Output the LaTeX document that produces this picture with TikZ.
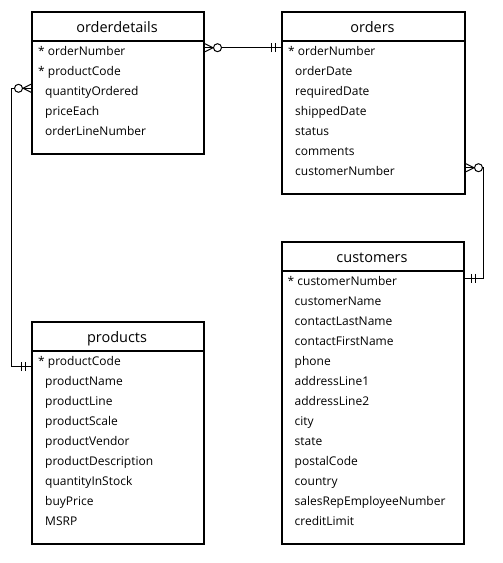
\documentclass[tikz,border=0pt]{standalone}
\usepackage{fontspec}
\setmainfont{Open Sans}
\usetikzlibrary{calc}
\begin{document}
\begin{tikzpicture}[x=1pt,y=-1pt,
  tbl/.style={draw, line width=2pt, inner sep=0pt, anchor=north west, minimum width=#1},
  ttl/.style={anchor=base, inner sep=0pt, font=\fontsize{14.5}{16}\selectfont},
  fld/.style={anchor=base west, inner sep=0pt, font=\fontsize{12}{14}\selectfont},
  sep/.style={line width=2pt},
  conn/.style={line width=1pt},
  manyopt/.pic={\draw[conn] (0,-4) -- (8,0) -- (0,4); \draw[conn, fill=white] (12.5,0) circle[radius=4pt];},
  oneone/.pic={\draw[conn] (6,-4.5) -- (6,4.5); \draw[conn] (10,-4.5) -- (10,4.5);}
]
\useasboundingbox (0,0) rectangle (503,563);
% orderdetails
\node[tbl=172pt, minimum height=142pt] (od) at (31,11) {};
\draw[sep] ($(od.north west)+(0,30)$) -- ($(od.north east)+(0,30)$);
\node[ttl] (odT) at (117,32) {orderdetails};
\node[fld] (od1) at (38,55) {* orderNumber};
\node[fld] (od2) at (38,75) {* productCode};
\node[fld] (od3) at (45,95) {quantityOrdered};
\node[fld] (od4) at (45,115) {priceEach};
\node[fld] (od5) at (45,135) {orderLineNumber};
% orders
\node[tbl=183pt, minimum height=182pt] (or) at (281,11) {};
\draw[sep] ($(or.north west)+(0,30)$) -- ($(or.north east)+(0,30)$);
\node[ttl] (orT) at (372.5,32) {orders};
\node[fld] (or1) at (288,55) {* orderNumber};
\node[fld] (or2) at (295,75) {orderDate};
\node[fld] (or3) at (295,95) {requiredDate};
\node[fld] (or4) at (295,115) {shippedDate};
\node[fld] (or5) at (295,135) {status};
\node[fld] (or6) at (295,155) {comments};
\node[fld] (or7) at (295,175) {customerNumber};
% customers
\node[tbl=182pt, minimum height=302pt] (cu) at (281,241) {};
\draw[sep] ($(cu.north west)+(0,30)$) -- ($(cu.north east)+(0,30)$);
\node[ttl] (cuT) at (372,262) {customers};
\node[fld] (cu1) at (287.5,285) {* customerNumber};
\node[fld] (cu2) at (294.5,305) {customerName};
\node[fld] (cu3) at (294.5,325) {contactLastName};
\node[fld] (cu4) at (294.5,345) {contactFirstName};
\node[fld] (cu5) at (294.5,365) {phone};
\node[fld] (cu6) at (294.5,385) {addressLine1};
\node[fld] (cu7) at (294.5,405) {addressLine2};
\node[fld] (cu8) at (294.5,425) {city};
\node[fld] (cu9) at (294.5,445) {state};
\node[fld] (cu10) at (294.5,465) {postalCode};
\node[fld] (cu11) at (294.5,485) {country};
\node[fld] (cu12) at (294.5,505) {salesRepEmployeeNumber};
\node[fld] (cu13) at (294.5,525) {creditLimit};
% products
\node[tbl=172pt, minimum height=222pt] (pr) at (31,321) {};
\draw[sep] ($(pr.north west)+(0,30)$) -- ($(pr.north east)+(0,30)$);
\node[ttl] (prT) at (117,342) {products};
\node[fld] (pr1) at (38,365) {* productCode};
\node[fld] (pr2) at (45,385) {productName};
\node[fld] (pr3) at (45,405) {productLine};
\node[fld] (pr4) at (45,425) {productScale};
\node[fld] (pr5) at (45,445) {productVendor};
\node[fld] (pr6) at (45,465) {productDescription};
\node[fld] (pr7) at (45,485) {quantityInStock};
\node[fld] (pr8) at (45,505) {buyPrice};
\node[fld] (pr9) at (45,525) {MSRP};
% connector endpoints
\coordinate (a1) at ($(od.north east)+(0,36.7)$);
\coordinate (a2) at ($(or.north west)+(0,36.7)$);
\coordinate (b1) at ($(or.north east)+(0,156.7)$);
\coordinate (b2) at ($(cu.north east)+(0,37.3)$);
\coordinate (bk1) at ($(b1)+(17.5,0)$);
\coordinate (c1) at ($(od.north west)+(0,77.3)$);
\coordinate (c2) at ($(pr.north west)+(0,45.7)$);
\coordinate (ck1) at ($(c1)+(-19.5,0)$);
% connectors
\draw[conn] (a1) -- (a2);
\draw[conn] (b1) -- (bk1) |- (b2);
\draw[conn] (c1) -- (ck1) |- (c2);
% end marks
\pic at (a1) {manyopt};
\pic[rotate=180] at (a2) {oneone};
\pic at (b1) {manyopt};
\pic at (b2) {oneone};
\pic[rotate=180] at (c1) {manyopt};
\pic[rotate=180] at (c2) {oneone};
\end{tikzpicture}
\end{document}
